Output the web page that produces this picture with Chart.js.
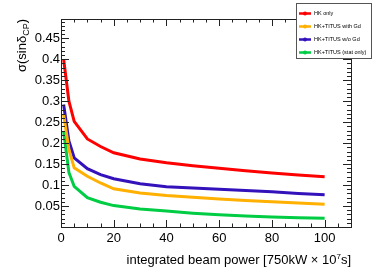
<!DOCTYPE html>
<html>
<head>
<meta charset="utf-8">
<script src="https://cdn.jsdelivr.net/npm/chart.js@4/dist/chart.umd.min.js"></script>
<style>
  html, body { margin: 0; padding: 0; background: #fff; }
  #wrap { width: 392px; height: 273px; position: relative; }
  #note { position: absolute; left: 0; top: 0; width: 1px; height: 1px; }
</style>
</head>
<body>
<div id="wrap"><canvas id="myChart"></canvas><div id="note"></div></div>
<script>
// beam power in units of 750kW x 10^7 s
const power = [1, 3, 5, 10, 15, 20, 30, 40, 50, 60, 70, 80, 90, 100];

const hkOnly   = [0.400, 0.300, 0.252, 0.210, 0.192, 0.177, 0.162, 0.153, 0.146, 0.140, 0.134, 0.129, 0.124, 0.120];
const withGd   = [0.268, 0.185, 0.141, 0.121, 0.105, 0.091, 0.081, 0.075, 0.071, 0.067, 0.063, 0.060, 0.057, 0.054];
const withoutGd = [0.292, 0.205, 0.165, 0.139, 0.125, 0.115, 0.103, 0.096, 0.093, 0.090, 0.087, 0.084, 0.080, 0.077];
const statOnly = [0.228, 0.130, 0.097, 0.070, 0.059, 0.051, 0.043, 0.038, 0.033, 0.029, 0.026, 0.024, 0.022, 0.021];

const labels = ['HK only', 'HK+TITUS with Gd', 'HK+TITUS w/o Gd', 'HK+TITUS (stat only)'];
const xTicks = [0, 20, 40, 60, 80, 100];
const yTicks = [0.05, 0.1, 0.15, 0.2, 0.25, 0.3, 0.35, 0.4, 0.45];

const FONT = '"Liberation Sans", Arial, sans-serif';

function pts(arr) {
    return power.map((p, i) => ({ x: p, y: arr[i] }));
}

function mkSet(label, arr, color) {
    return {
        label: label,
        data: pts(arr),
        borderColor: color,
        backgroundColor: color,
        borderWidth: 3,
        pointRadius: 0,
        tension: 0,
        fill: false
    };
}

// ROOT-like frame: inward ticks on four sides, titles, legend box
const rootFrame = {
    id: 'rootFrame',
    afterDraw(chart) {
        const ctx = chart.ctx;
        const a = chart.chartArea;
        const xs = chart.scales.x, ys = chart.scales.y;
        const mainF = '13px ' + FONT, subF = '9px ' + FONT;
        ctx.save();
        ctx.strokeStyle = '#222';
        ctx.lineWidth = 1;
        ctx.strokeRect(a.left + 0.5, a.top + 0.5, a.right - a.left, a.bottom - a.top);

        ctx.beginPath();
        for (let v = 0; v <= 110; v += 5) {
            const px = Math.round(xs.getPixelForValue(v)) + 0.5;
            const len = v % 20 === 0 ? 7 : 3.5;
            ctx.moveTo(px, a.bottom); ctx.lineTo(px, a.bottom - len);
            ctx.moveTo(px, a.top); ctx.lineTo(px, a.top + len);
        }
        for (let k = 1; k <= 49; k++) {
            const py = Math.round(ys.getPixelForValue(k / 100)) + 0.5;
            const len = k % 5 === 0 ? 8 : 4;
            ctx.moveTo(a.left, py); ctx.lineTo(a.left + len, py);
            ctx.moveTo(a.right, py); ctx.lineTo(a.right - len, py);
        }
        ctx.stroke();

        // y title  sigma(sin delta_CP)
        ctx.fillStyle = '#000';
        ctx.save();
        ctx.translate(26, 19);
        ctx.rotate(-Math.PI / 2);
        ctx.textBaseline = 'alphabetic';
        ctx.textAlign = 'left';
        ctx.font = mainF;
        const w1 = ctx.measureText('σ(sinδ').width;
        const w3 = ctx.measureText(')').width;
        ctx.font = subF;
        const w2 = ctx.measureText('CP').width;
        const x0 = -(w1 + w2 + w3);
        ctx.font = mainF;
        ctx.fillText('σ(sinδ', x0, 0);
        ctx.font = subF;
        ctx.fillText('CP', x0 + w1, 3);
        ctx.font = mainF;
        ctx.fillText(')', x0 + w1 + w2, 0);
        ctx.restore();

        // x title
        const t1 = 'integrated beam power [750kW × 10', t2 = '7', t3 = 's]';
        ctx.font = mainF;
        const u1 = ctx.measureText(t1).width, u3 = ctx.measureText(t3).width;
        ctx.font = '8px ' + FONT;
        const u2 = ctx.measureText(t2).width;
        const sx = a.right - (u1 + u2 + u3);
        ctx.textAlign = 'left';
        ctx.textBaseline = 'alphabetic';
        ctx.font = mainF;
        ctx.fillText(t1, sx, 264);
        ctx.font = '8px ' + FONT;
        ctx.fillText(t2, sx + u1, 259);
        ctx.font = mainF;
        ctx.fillText(t3, sx + u1 + u2, 264);

        // legend
        const lx = 296, ly = 3, lw = 75, lh = 55;
        ctx.fillStyle = '#fff';
        ctx.fillRect(lx, ly, lw, lh);
        ctx.strokeStyle = '#555';
        ctx.lineWidth = 1;
        ctx.strokeRect(lx + 0.5, ly + 0.5, lw, lh);
        ctx.font = '5.5px ' + FONT;
        ctx.textBaseline = 'middle';
        chart.data.datasets.forEach((ds, i) => {
            const yy = 13.5 + i * 13;
            ctx.strokeStyle = ds.borderColor;
            ctx.lineWidth = 2.5;
            ctx.beginPath();
            ctx.moveTo(299, yy); ctx.lineTo(311, yy);
            ctx.stroke();
            ctx.fillStyle = ds.borderColor;
            ctx.beginPath();
            ctx.arc(305, yy, 2, 0, Math.PI * 2);
            ctx.fill();
            ctx.fillStyle = '#000';
            ctx.fillText(ds.label, 314, yy);
        });
        ctx.restore();
    }
};

const ctx = document.getElementById('myChart').getContext('2d');
const myChart = new Chart(ctx, {
    type: 'line',
    data: {
        datasets: [
            mkSet(labels[0], hkOnly, '#ff0000'),
            mkSet(labels[1], withGd, '#ffb000'),
            mkSet(labels[2], withoutGd, '#3311bb'),
            mkSet(labels[3], statOnly, '#00cc44')
        ]
    },
    options: {
        responsive: true,
        maintainAspectRatio: false,
        animation: false,
        layout: { padding: { top: 19, right: 41, bottom: 0, left: 0 } },
        plugins: {
            legend: { display: false },
            tooltip: { enabled: false }
        },
        scales: {
            x: {
                type: 'linear',
                min: 0,
                max: 110,
                grid: { display: false, drawTicks: false },
                border: { display: false },
                afterBuildTicks: s => { s.ticks = xTicks.map(v => ({ value: v })); },
                ticks: {
                    padding: 4,
                    autoSkip: false,
                    color: '#000',
                    font: { family: FONT, size: 13 },
                    maxRotation: 0,
                    callback: v => String(v)
                },
                afterFit: s => { s.height = 46; }
            },
            y: {
                type: 'linear',
                min: 0,
                max: 0.496,
                grid: { display: false, drawTicks: false },
                border: { display: false },
                afterBuildTicks: s => { s.ticks = yTicks.map(v => ({ value: v })); },
                ticks: {
                    padding: 1,
                    autoSkip: false,
                    color: '#000',
                    font: { family: FONT, size: 13 },
                    callback: v => String(Math.round(v * 100) / 100)
                },
                afterFit: s => { s.width = 61; }
            }
        }
    },
    plugins: [rootFrame]
});
document.getElementById('note').textContent = '';
</script>
</body>
</html>
